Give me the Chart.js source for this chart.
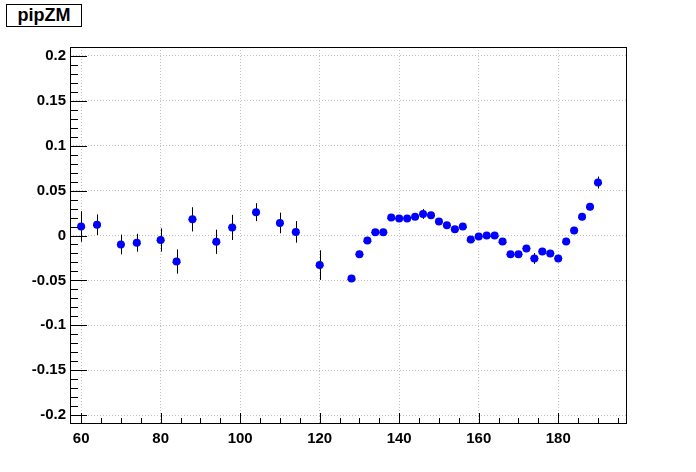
<!DOCTYPE html>
<html>
<head>
<meta charset="utf-8">
<script src="https://cdn.jsdelivr.net/npm/chart.js@4"></script>
<style>
  html, body { margin: 0; padding: 0; background: #fff; }
  #wrap { position: relative; width: 696px; height: 472px; }
  #title {
    position: absolute; left: 6px; top: 4px; width: 74px; height: 21px;
    border: 1px solid #000; background: #fff;
    font: bold 18px "Liberation Sans", Arial, sans-serif;
    text-align: center; line-height: 21px; color: #000;
  }
</style>
</head>
<body>
<div id="wrap">
  <canvas id="myChart" width="696" height="472"></canvas>
  <div id="title">pipZM</div>
</div>
<script>
// bin centres, values and errors
const xBins = [60, 64, 70, 74, 80, 84, 88, 94, 98, 104, 110, 114, 120,
  128, 130, 132, 134, 136, 138, 140, 142, 144, 146, 148, 150, 152, 154, 156, 158,
  160, 162, 164, 166, 168, 170, 172, 174, 176, 178, 180, 182, 184, 186, 188, 190];
const yValues = [0.010, 0.012, -0.010, -0.008, -0.005, -0.029, 0.018, -0.007, 0.009, 0.026, 0.014, 0.004, -0.033,
  -0.048, -0.021, -0.0056, 0.0037, 0.0037, 0.020, 0.019, 0.019, 0.021, 0.024, 0.0226, 0.0156, 0.0114, 0.007, 0.010, -0.0045,
  -0.0011, 0.000, 0.000, -0.0067, -0.021, -0.021, -0.0144, -0.0256, -0.0178, -0.020, -0.0256, -0.0067, 0.0056, 0.021, 0.032, 0.059];
const yErrors = [0.017, 0.0115, 0.011, 0.010, 0.013, 0.0135, 0.0135, 0.0135, 0.014, 0.010, 0.0115, 0.012, 0.0165,
  0.003, 0.004, 0.003, 0.003, 0.003, 0.003, 0.003, 0.003, 0.003, 0.0055, 0.003, 0.003, 0.003, 0.003, 0.003, 0.003,
  0.003, 0.003, 0.003, 0.003, 0.003, 0.003, 0.003, 0.006, 0.003, 0.003, 0.003, 0.003, 0.003, 0.004, 0.004, 0.0067];
const xHalfWidth = 1;

const xTickLabels = [60, 80, 100, 120, 140, 160, 180];
const yTickLabels = [-0.2, -0.15, -0.1, -0.05, 0, 0.05, 0.1, 0.15, 0.2];

const FONT = 'Liberation Sans';

// error bars, frame and inside ticks in ROOT style
const rootStyle = {
  id: 'rootStyle',
  beforeDatasetsDraw(chart) {
    const ctx = chart.ctx, xs = chart.scales.x, ys = chart.scales.y;
    ctx.save();
    ctx.strokeStyle = '#000';
    ctx.lineWidth = 1;
    ctx.beginPath();
    xBins.forEach((x, i) => {
      const px = Math.round(xs.getPixelForValue(x)) + 0.5;
      const py = Math.round(ys.getPixelForValue(yValues[i])) + 0.5;
      ctx.moveTo(px, ys.getPixelForValue(yValues[i] + yErrors[i]));
      ctx.lineTo(px, ys.getPixelForValue(yValues[i] - yErrors[i]));
      ctx.moveTo(xs.getPixelForValue(x - xHalfWidth), py);
      ctx.lineTo(xs.getPixelForValue(x + xHalfWidth), py);
    });
    ctx.stroke();
    ctx.restore();
  },
  afterDraw(chart) {
    const ctx = chart.ctx, a = chart.chartArea, xs = chart.scales.x, ys = chart.scales.y;
    ctx.save();
    ctx.strokeStyle = '#000';
    ctx.lineWidth = 1;
    ctx.strokeRect(a.left + 0.5, a.top + 0.5, a.right - a.left - 1, a.bottom - a.top - 1);
    ctx.beginPath();
    // x ticks, major every 20, minor every 5
    for (let v = 60; v <= xs.max; v += 5) {
      const px = Math.round(xs.getPixelForValue(v)) + 0.5;
      const len = (v % 20 === 0) ? 11 : 6;
      ctx.moveTo(px, a.bottom);
      ctx.lineTo(px, a.bottom - len);
    }
    // y ticks, major every 0.05, minor every 0.01
    for (let k = -20; k <= 20; k++) {
      const py = Math.round(ys.getPixelForValue(k / 100)) + 0.5;
      const len = (k % 5 === 0) ? 17 : 8;
      ctx.moveTo(a.left, py);
      ctx.lineTo(a.left + len, py);
    }
    ctx.stroke();
    ctx.restore();
  }
};

const ctx = document.getElementById('myChart').getContext('2d');

window.myChart = new Chart(ctx, {
  type: 'scatter',
  data: {
    datasets: [{
      data: xBins.map((x, i) => ({ x: x, y: yValues[i] })),
      backgroundColor: '#0000ff',
      borderWidth: 0,
      pointRadius: 4,
      pointHoverRadius: 4
    }]
  },
  options: {
    responsive: false,
    animation: false,
    layout: { padding: { top: 47, right: 69, left: 0, bottom: 0 } },
    plugins: {
      legend: { display: false },
      tooltip: { enabled: false }
    },
    scales: {
      x: {
        type: 'linear',
        min: 57.2,
        max: 197.3,
        afterBuildTicks: (s) => { s.ticks = xTickLabels.map(v => ({ value: v })); },
        afterFit: (s) => { s.height = 48; },
        border: { display: false, dash: [1, 2] },
        grid: { color: '#c0c0c0', drawTicks: false, lineWidth: 1 },
        ticks: {
          color: '#000',
          padding: 6,
          maxRotation: 0,
          font: { family: FONT, size: 15, weight: 'bold' },
          callback: (v) => String(v)
        }
      },
      y: {
        type: 'linear',
        min: -0.21,
        max: 0.21,
        afterBuildTicks: (s) => { s.ticks = yTickLabels.map(v => ({ value: v })); },
        afterFit: (s) => { s.width = 70; },
        border: { display: false, dash: [1, 2] },
        grid: { color: '#c0c0c0', drawTicks: false, lineWidth: 1 },
        ticks: {
          color: '#000',
          padding: 4,
          font: { family: FONT, size: 15, weight: 'bold' },
          callback: (v) => String(+v.toFixed(2))
        }
      }
    }
  },
  plugins: [rootStyle]
});
</script>
</body>
</html>
